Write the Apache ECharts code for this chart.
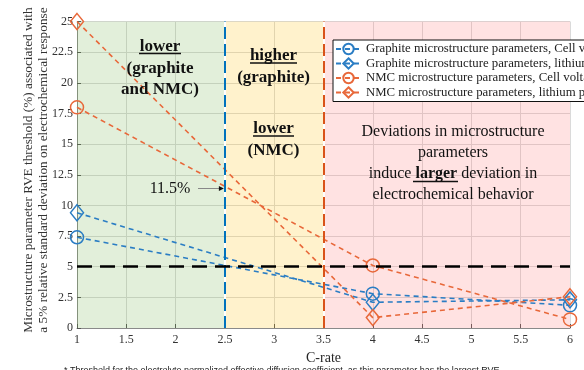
<!DOCTYPE html>
<html><head><meta charset="utf-8">
<script src="https://cdn.jsdelivr.net/npm/echarts@6/dist/echarts.min.js"></script>
<style>html,body{margin:0;padding:0;background:#fff}#c{width:584px;height:370px}</style>
</head><body><div id="c"></div>
<script>
const cRates = [1, 4, 6];
const graphiteCellVoltage = [7.4, 2.8, 1.85];
const graphiteLithiumPlating = [9.4, 2.1, 2.3];
const nmcCellVoltage = [18.0, 5.1, 0.7];
const nmcLithiumPlating = [25.0, 0.85, 2.55];
const seriesNames = [
  'Graphite microstructure parameters, Cell voltage',
  'Graphite microstructure parameters, lithium plating',
  'NMC microstructure parameters, Cell voltage',
  'NMC microstructure parameters, lithium plating'
];
const yAxisTitle = 'Microstructure parameter RVE threshold (%) associated with\na 5% relative standard deviation on electrochemical response';
const regionBounds = [1, 2.5, 3.5, 6];
const thresholdValue = 5;
const annotatedValue = 11.5;

const FONT = '"Liberation Serif", "Times New Roman", serif';
const BLUE = '#2A7DC4';
const ORANGE = '#E8683A';
const pair = (ys) => cRates.map((x, i) => [x, ys[i]]);

function dataSeries(name, ys, color, symbol, size) {
  return {
    name, type: 'line', data: pair(ys), z: 4,
    symbol, symbolSize: size, showSymbol: true,
    lineStyle: { color, width: 1.6, type: [5, 4] },
    itemStyle: { color: 'rgba(0,0,0,0)', borderColor: color, borderWidth: 1.5 },
    emphasis: { disabled: true }, animation: false
  };
}

const chart = echarts.init(document.getElementById('c'), null, { renderer: 'canvas' });
chart.setOption({
  animation: false,
  backgroundColor: '#fff',
  grid: { left: 77, right: 14, top: 21.5, bottom: 42 },
  xAxis: {
    type: 'value', min: 1, max: 6, interval: 0.5,
    name: 'C-rate', nameLocation: 'middle', nameGap: 19,
    nameTextStyle: { fontFamily: FONT, fontSize: 14, color: '#262626' },
    axisLine: { show: true, lineStyle: { color: '#8a8a8a', width: 1 } },
    axisTick: { show: true, inside: true, length: 4, lineStyle: { color: '#555' } },
    axisLabel: { fontFamily: FONT, fontSize: 12, color: '#333', margin: 6 },
    splitLine: { show: true, lineStyle: { color: '#dadada', width: 1 } }
  },
  yAxis: {
    type: 'value', min: 0, max: 25, interval: 2.5,
    axisLine: { show: true, lineStyle: { color: '#8a8a8a', width: 1 } },
    axisTick: { show: true, inside: true, length: 4, lineStyle: { color: '#555' } },
    axisLabel: { fontFamily: FONT, fontSize: 12, color: '#333', margin: 4 },
    splitLine: { show: true, lineStyle: { color: '#dadada', width: 1 } }
  },
  legend: {
    orient: 'vertical', left: 333, top: 40,
    data: seriesNames,
    itemWidth: 25, itemHeight: 13, itemGap: 1.5,
    padding: [2.5, 4, 2.5, 2],
    backgroundColor: '#fff', borderColor: '#111', borderWidth: 1,
    textStyle: { fontFamily: FONT, fontSize: 12.8, color: '#222' },
    selectedMode: false, z: 10
  },
  series: [
    {
      name: 'background', type: 'line', data: [], z: 1, silent: true,
      markArea: {
        silent: true,
        data: [
          [{ xAxis: regionBounds[0], itemStyle: { color: 'rgba(112,173,71,0.2)' } }, { xAxis: regionBounds[1] }],
          [{ xAxis: regionBounds[1], itemStyle: { color: 'rgba(255,192,0,0.2)' } }, { xAxis: regionBounds[2] }],
          [{ xAxis: regionBounds[2], itemStyle: { color: 'rgba(255,110,110,0.2)' } }, { xAxis: regionBounds[3] }]
        ]
      },
      markLine: {
        silent: true, symbol: 'none', label: { show: false },
        data: [
          { xAxis: regionBounds[1], lineStyle: { color: '#fff', width: 2, type: 'solid' } },
          { xAxis: regionBounds[2], lineStyle: { color: '#fff', width: 2, type: 'solid' } }
        ]
      }
    },
    {
      name: 'guides', type: 'line', data: [], z: 3, silent: true,
      markLine: {
        silent: true, symbol: 'none', label: { show: false },
        data: [
          { xAxis: regionBounds[1], lineStyle: { color: '#0072BD', width: 2, type: [12, 5] } },
          { xAxis: regionBounds[2], lineStyle: { color: '#D95319', width: 2, type: [12, 5] } },
          { yAxis: thresholdValue, lineStyle: { color: '#000', width: 2.5, type: [15, 8] } }
        ]
      }
    },
    dataSeries(seriesNames[0], graphiteCellVoltage, BLUE, 'circle', 13),
    dataSeries(seriesNames[1], graphiteLithiumPlating, BLUE, 'diamond', [13, 16]),
    dataSeries(seriesNames[2], nmcCellVoltage, ORANGE, 'circle', 13),
    dataSeries(seriesNames[3], nmcLithiumPlating, ORANGE, 'diamond', [13, 16])
  ]
});

const arrowTip = chart.convertToPixel({ gridIndex: 0 }, [regionBounds[1], annotatedValue]);
const boldTxt = (text, x, y) => ({ type: 'text', z: 20, style: { text, x, y, font: 'bold 17px ' + FONT, fill: '#111', align: 'center', verticalAlign: 'middle' } });
const txt = (text, x, y) => ({ type: 'text', z: 20, style: { text, x, y, font: '16px ' + FONT, fill: '#111', align: 'center', verticalAlign: 'middle', rich: { b: { font: 'bold 16px ' + FONT, fill: '#111' } } } });
const uline = (x1, x2, y) => ({ type: 'line', z: 20, shape: { x1, y1: y, x2, y2: y }, style: { stroke: '#111', lineWidth: 1.5 } });

chart.setOption({
  graphic: [
    { type: 'text', z: 20, x: 36, y: 170, rotation: Math.PI / 2,
      style: { text: yAxisTitle, x: 0, y: 0, font: '13.3px ' + FONT, lineHeight: 15, fill: '#333', align: 'center', verticalAlign: 'middle' } },
    boldTxt('lower', 160, 46.5), uline(139, 181, 53.5),
    boldTxt('(graphite', 160, 68.5),
    boldTxt('and NMC)', 160, 90),
    boldTxt('higher', 273.5, 56), uline(250, 297, 63),
    boldTxt('(graphite)', 273.5, 77.5),
    boldTxt('lower', 273.5, 129), uline(253, 294, 136),
    boldTxt('(NMC)', 273.5, 151),
    txt('Deviations in microstructure', 453, 132),
    txt('parameters', 453, 153),
    txt('induce {b|larger} deviation in', 453, 174), uline(413, 458, 181.5),
    txt('electrochemical behavior', 453, 195),
    txt('11.5%', 170, 189),
    { type: 'line', z: 20, shape: { x1: 198, y1: arrowTip[1] + 1.5, x2: arrowTip[0] - 5, y2: arrowTip[1] + 1.5 }, style: { stroke: '#888', lineWidth: 1 } },
    { type: 'polygon', z: 20, shape: { points: [[arrowTip[0] - 1, arrowTip[1] + 1.5], [arrowTip[0] - 6, arrowTip[1] - 1], [arrowTip[0] - 6, arrowTip[1] + 4]] }, style: { fill: '#111' } },
    { type: 'text', z: 20, style: { text: '* Threshold for the electrolyte normalized effective diffusion coefficient, as this parameter has the largest RVE', x: 64, y: 366, font: '9px "Liberation Sans", Arial, sans-serif', fill: '#222', align: 'left', verticalAlign: 'top' } }
  ]
});
</script></body></html>
